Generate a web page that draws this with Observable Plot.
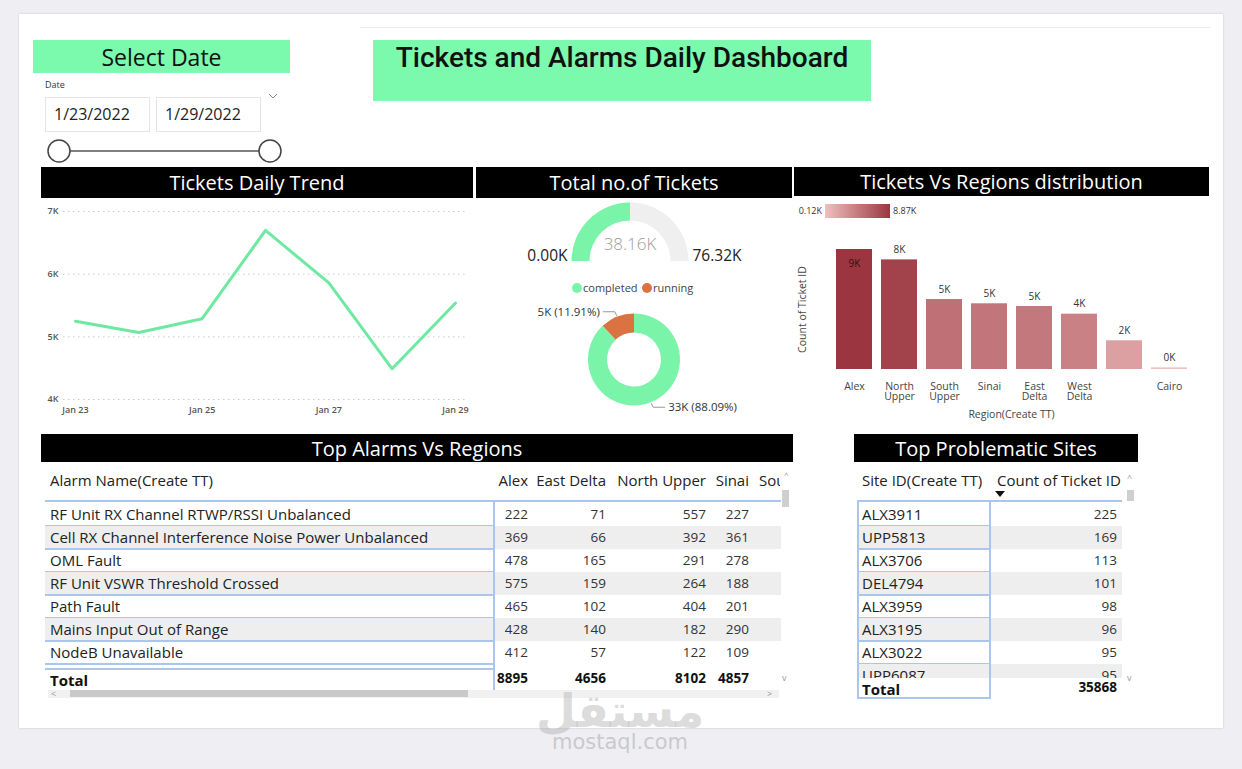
<!DOCTYPE html>
<html><head><meta charset="utf-8">
<script src="https://cdn.jsdelivr.net/npm/d3@7"></script>
<script src="https://cdn.jsdelivr.net/npm/@observablehq/plot@0.6"></script>
<style>
html,body{margin:0;padding:0;}
body{width:1242px;height:769px;background:#eeeef3;overflow:hidden;font-family:"Open Sans",sans-serif;color:#222;}
#root{position:relative;width:1242px;height:769px;}
#root div{position:absolute;box-sizing:border-box;white-space:nowrap;}
.green{background:#7bf9ac;}
.bar{background:#000;color:#fff;text-align:center;font-size:20px;}
</style></head><body><div id="root"></div>
<script>
// ---------------- DATA ----------------
const dateRange = ["1/23/2022", "1/29/2022"];
const trendDates = ["2022-01-23","2022-01-24","2022-01-25","2022-01-26","2022-01-27","2022-01-28","2022-01-29"];
const trendTickets = [5250, 5070, 5290, 6700, 5860, 4490, 5540];
const trendYTicks = [4000, 5000, 6000, 7000];
const trendXTicks = ["2022-01-23","2022-01-25","2022-01-27","2022-01-29"];

const gaugeMin = 0;
const gaugeMax = 76320;
const gaugeValue = 38160;
const statusNames = ["completed", "running"];
const statusCounts = [33420, 4518];

const regionNames = ["Alex","North Upper","South Upper","Sinai","East Delta","West Delta","","Cairo"];
const regionTickets = [8870, 8102, 5170, 4857, 4656, 4090, 2120, 120];

const alarmNames = ["RF Unit RX Channel RTWP/RSSI Unbalanced","Cell RX Channel Interference Noise Power Unbalanced","OML Fault","RF Unit VSWR Threshold Crossed","Path Fault","Mains Input Out of Range","NodeB Unavailable"];
const alarmRegions = ["Alex","East Delta","North Upper","Sinai","South Upper"];
const alarmAlex = [222, 369, 478, 575, 465, 428, 412];
const alarmEastDelta = [71, 66, 165, 159, 102, 140, 57];
const alarmNorthUpper = [557, 392, 291, 264, 404, 182, 122];
const alarmSinai = [227, 361, 278, 188, 201, 290, 109];
const alarmTotals = [8895, 4656, 8102, 4857];

const siteIds = ["ALX3911","UPP5813","ALX3706","DEL4794","ALX3959","ALX3195","ALX3022","UPP6087"];
const siteCounts = [225, 169, 113, 101, 98, 96, 95, 95];
const siteTotal = 35868;

// ---------------- HELPERS ----------------
const F = '"Open Sans", sans-serif';
const root = document.getElementById("root");
function box(l, t, w, h, css, text, parent) {
  const d = document.createElement("div");
  d.style.cssText = `left:${l}px;top:${t}px;` + (w != null ? `width:${w}px;` : "") + (h != null ? `height:${h}px;` : "") + (css || "");
  if (text != null) d.textContent = text;
  (parent || root).appendChild(d);
  return d;
}
const green = "#7bf9ac";
const lineGreen = "#6ee9a2";
const blueLine = "#aac6ea";

// card
box(19, 14, 1204, 714, "background:#fff;box-shadow:0 0 2px rgba(0,0,0,.18);");
box(360, 27, 850, 1, "background:#ececec;");

// Select date
box(33, 40, 257, 33, "background:" + green + ";text-align:center;font-size:23px;line-height:34px;color:#111;", "Select Date");
box(45, 79, null, null, "font-size:9px;color:#333;line-height:12px;", "Date");
const chev = box(268, 82, 10, 6, "");
chev.innerHTML = '<svg width="10" height="6"><polyline points="1,1 5,5 9,1" fill="none" stroke="#888" stroke-width="1"/></svg>';
box(45, 97, 105, 35, "border:1px solid #e4e4e4;font-size:16px;line-height:33px;padding-left:8px;color:#222;", dateRange[0]);
box(156, 97, 105, 35, "border:1px solid #e4e4e4;font-size:16px;line-height:33px;padding-left:8px;color:#222;", dateRange[1]);
const sl = box(40, 135, 260, 32, "");
sl.innerHTML = '<svg width="260" height="32"><line x1="30" y1="16" x2="219" y2="16" stroke="#555" stroke-width="1.6"/><circle cx="19" cy="16" r="11" fill="#fff" stroke="#444" stroke-width="1.5"/><circle cx="230" cy="16" r="11" fill="#fff" stroke="#444" stroke-width="1.5"/></svg>';

// Title
box(373, 40, 498, 61, "background:" + green + ";text-align:center;font-family:Roboto,sans-serif;font-weight:500;font-size:28px;line-height:36px;color:#111;", "Tickets and Alarms Daily Dashboard");

// Header bars
box(41, 167, 432, 31, "line-height:31px;", "Tickets Daily Trend").className = "bar";
box(476, 167, 316, 31, "line-height:31px;", "Total no.of Tickets").className = "bar";
box(794, 167, 415, 29, "line-height:29px;", "Tickets Vs Regions distribution").className = "bar";
box(41, 434, 752, 28, "line-height:29px;", "Top Alarms Vs Regions").className = "bar";
box(854, 434, 284, 28, "line-height:29px;", "Top Problematic Sites").className = "bar";

// ---------------- LINE CHART ----------------
const trendData = trendDates.map((d, i) => ({date: new Date(d), v: trendTickets[i]}));
const lineChart = Plot.plot({
  width: 432, height: 225,
  marginLeft: 34, marginRight: 18, marginTop: 11, marginBottom: 26,
  style: {fontFamily: F, fontSize: "9px", fontWeight: "600", color: "#555", background: "transparent", overflow: "visible"},
  x: {type: "utc", domain: [trendData[0].date, trendData[trendData.length - 1].date], ticks: trendXTicks.map(d => new Date(d)), tickFormat: d3.utcFormat("%b %d"), tickSize: 0, tickPadding: 7, label: null},
  y: {domain: [trendYTicks[0], trendYTicks[trendYTicks.length - 1]], ticks: trendYTicks, tickFormat: d => d / 1000 + "K", tickSize: 0, tickPadding: 17, label: null},
  marks: [
    Plot.ruleY(trendYTicks, {stroke: "#c9c9c9", strokeDasharray: "1.5,3.5", insetLeft: -12, insetRight: -12}),
    Plot.line(trendData, {x: "date", y: "v", stroke: lineGreen, strokeWidth: 3})
  ]
});
box(41, 200, 432, 225, "").appendChild(lineChart);

// ---------------- GAUGE + DONUT ----------------
const statusColors = ["#7af4a9", "#db7242"];
const kfmt2 = v => (v / 1000).toFixed(2) + "K";
const midChart = Plot.plot({
  width: 316, height: 232, margin: 0,
  x: {domain: [0, 316], axis: null}, y: {domain: [0, 232], axis: null, reverse: true},
  style: {fontFamily: F, background: "transparent", overflow: "visible"},
  marks: [
    (index, scales, values, dims) => {
      const g = d3.create("svg:g");
      // gauge
      const gx = scales.x(154), gy = scales.y(63);
      const ro = 58.5, ri = 40.5;
      const frac = (gaugeValue - gaugeMin) / (gaugeMax - gaugeMin);
      const a0 = -Math.PI / 2, a1 = a0 + Math.PI * frac, a2 = Math.PI / 2;
      const arc = d3.arc();
      g.append("path").attr("transform", `translate(${gx},${gy})`).attr("fill", "#efefef")
        .attr("d", arc({innerRadius: ri, outerRadius: ro, startAngle: a1, endAngle: a2}));
      g.append("path").attr("transform", `translate(${gx},${gy})`).attr("fill", statusColors[0])
        .attr("d", arc({innerRadius: ri, outerRadius: ro, startAngle: a0, endAngle: a1}));
      g.append("text").attr("x", gx).attr("y", gy - 11).attr("text-anchor", "middle").attr("font-size", 17).attr("font-weight", 300).attr("fill", "#9a9a9a").text(kfmt2(gaugeValue));
      g.append("text").attr("x", gx - ro - 4).attr("y", gy).attr("text-anchor", "end").attr("font-size", 15.5).attr("fill", "#222").text(kfmt2(gaugeMin));
      g.append("text").attr("x", gx + ro + 4).attr("y", gy).attr("text-anchor", "start").attr("font-size", 15.5).attr("fill", "#222").text(kfmt2(gaugeMax));
      // legend
      const ly = scales.y(90);
      let lx = scales.x(101);
      statusNames.forEach((n, i) => {
        g.append("circle").attr("cx", lx).attr("cy", ly).attr("r", 5).attr("fill", statusColors[i]);
        g.append("text").attr("x", lx + 6).attr("y", ly).attr("dy", "0.35em").attr("text-anchor", "start").attr("font-size", 11).attr("fill", "#444").text(n);
        lx += 70;
      });
      // donut
      const cx = scales.x(158), cy = scales.y(161.5);
      const dro = 46, dri = 27;
      const total = d3.sum(statusCounts);
      const arcs = d3.pie().sort(null).value(d => d)(statusCounts);
      arcs.forEach((a, i) => {
        g.append("path").attr("transform", `translate(${cx},${cy})`).attr("fill", statusColors[i])
          .attr("d", arc({innerRadius: dri, outerRadius: dro, startAngle: a.startAngle, endAngle: a.endAngle}));
      });
      arcs.forEach((a, i) => {
        const mid = (a.startAngle + a.endAngle) / 2;
        const sx = cx + (dro + 1) * Math.sin(mid), sy = cy - (dro + 1) * Math.cos(mid);
        const side = Math.sin(mid) >= 0 ? 1 : -1;
        const vert = Math.cos(mid) > 0 ? -1 : 1;
        const lyy = sy + vert * 4;
        g.append("path").attr("fill", "none").attr("stroke", "#999").attr("stroke-width", 1)
          .attr("d", `M${sx},${sy}L${sx + side * 2},${lyy}L${sx + side * 14},${lyy}`);
        g.append("text").attr("x", sx + side * 17).attr("y", lyy).attr("dy", "0.35em")
          .attr("text-anchor", side > 0 ? "start" : "end").attr("font-size", 11.5).attr("fill", "#333")
          .text(Math.round(a.data / 1000) + "K (" + (a.data / total * 100).toFixed(2) + "%)");
      });
      return g.node();
    }
  ]
});
box(476, 198, 316, 232, "").appendChild(midChart);

// ---------------- BAR CHART ----------------
const regionData = regionNames.map((r, i) => ({r, v: regionTickets[i]}));
const rMin = d3.min(regionTickets), rMax = d3.max(regionTickets);
const barLight = "#efc0c0", barDark = "#9b3640";
const kfmt0 = d => Math.round(d.v / 1000) + "K";
const barChart = Plot.plot({
  width: 415, height: 225,
  marginLeft: 37, marginRight: 18, marginTop: 49, marginBottom: 56,
  style: {fontFamily: F, fontSize: "10.5px", color: "#444", background: "transparent", overflow: "visible"},
  x: {domain: regionNames, paddingInner: 0.21, paddingOuter: 0.105, tickSize: 0, tickPadding: 13, tickFormat: d => d.replace(" ", "\n"), label: "Region(Create TT)", labelAnchor: "center", labelOffset: 48},
  y: {domain: [0, rMax], ticks: [], label: "Count of Ticket ID", labelAnchor: "center", labelOffset: 33, labelArrow: false},
  color: {type: "linear", domain: [rMin, rMax], range: [barLight, barDark]},
  marks: [
    Plot.barY(regionData, {x: "r", y: "v", fill: "v"}),
    Plot.text(regionData.filter(d => d.v < rMax), {x: "r", y: "v", text: kfmt0, dy: -10, fill: "#333", fontSize: 10}),
    Plot.text(regionData.filter(d => d.v === rMax), {x: "r", y: "v", text: kfmt0, dy: 14, fill: "#3a0a10", fontSize: 10})
  ]
});
box(794, 200, 415, 225, "").appendChild(barChart);
// gradient legend
box(825, 204, 65, 14, `background:linear-gradient(to right, ${barLight}, ${barDark});`);
box(770, 204, 52, 14, "font-size:9px;line-height:14px;text-align:right;color:#333;", kfmt2(rMin));
box(893, 204, 40, 14, "font-size:9px;line-height:14px;color:#333;", kfmt2(rMax));

// ---------------- ALARMS TABLE ----------------
const rowH = 23;
const alarmCols = [alarmAlex, alarmEastDelta, alarmNorthUpper, alarmSinai];
const alarmRight = [528, 606, 706, 749];
box(50, 469, null, 22, "font-size:15px;line-height:22px;color:#222;", "Alarm Name(Create TT)");
alarmRegions.forEach((r, j) => {
  if (j < alarmRight.length) box(alarmRight[j] - 120, 469, 120, 22, "font-size:15px;line-height:22px;text-align:right;color:#222;", r);
});
const clipHdr = box(759, 469, 21, 22, "overflow:hidden;");
box(0, 0, null, 22, "font-size:15px;line-height:22px;color:#222;", alarmRegions[4], clipHdr);
box(45, 500, 736, 2, "background:" + blueLine + ";");
const av = box(45, 502, 736, 166, "overflow:hidden;");
alarmNames.forEach((n, i) => {
  const top = 1 + i * rowH;
  if (i % 2 === 1) box(0, top, 736, rowH, "background:#eeeeee;", null, av);
  box(5, top, 440, rowH, "font-size:15px;line-height:23px;color:#222;", n, av);
  alarmCols.forEach((col, j) => {
    box(alarmRight[j] - 45 - 80, top, 80, rowH, "font-size:13.5px;line-height:23px;text-align:right;color:#333;", col[i], av);
  });
  box(0, top + rowH - 1, 448, 1.5, "background:" + blueLine + ";", null, av);
});
box(45, 668, 448, 1.5, "background:" + blueLine + ";");
box(493, 501, 1.5, 189, "background:" + blueLine + ";");
box(50, 671, null, 18, "font-size:15px;line-height:18px;font-weight:700;color:#111;", "Total");
alarmTotals.forEach((t, j) => {
  box(alarmRight[j] - 80, 670, 80, 17, "font-size:13.5px;line-height:17px;font-weight:700;text-align:right;color:#111;", t);
});
// scrollbars
box(784, 470, 7, 9, "font-size:8px;line-height:9px;color:#999;", "^");
box(782, 490, 7, 17, "background:#cfcfcf;");
box(782, 673, 8, 10, "font-size:9px;line-height:10px;color:#999;", "v");
box(48, 690, 731, 8, "background:#f1f1f1;");
box(70, 690, 398, 7, "background:#c9c9c9;");
box(51, 689, 8, 10, "font-size:9px;line-height:10px;color:#999;", "<");
box(767, 689, 8, 10, "font-size:9px;line-height:10px;color:#999;", ">");

// ---------------- SITES TABLE ----------------
box(862, 469, null, 22, "font-size:15px;line-height:22px;color:#222;", "Site ID(Create TT)");
box(997, 469, 120, 22, "font-size:15px;line-height:22px;text-align:right;color:#222;", "Count of Ticket ID");
box(995, 491, 0, 0, "border-left:5px solid transparent;border-right:5px solid transparent;border-top:6px solid #111;");
box(857, 500, 265, 2, "background:" + blueLine + ";");
const sv = box(857, 502, 265, 176, "overflow:hidden;");
siteIds.forEach((s, i) => {
  const top = 1 + i * rowH;
  if (i % 2 === 1) box(0, top, 265, rowH, "background:#eeeeee;", null, sv);
  box(5, top, 125, rowH, "font-size:15px;line-height:23px;color:#222;", s, sv);
  box(180, top, 80, rowH, "font-size:13.5px;line-height:23px;text-align:right;color:#333;", siteCounts[i], sv);
  box(0, top + rowH - 1, 132, 1.5, "background:" + blueLine + ";", null, sv);
});
box(857, 501, 1.5, 198, "background:" + blueLine + ";");
box(989, 501, 1.5, 198, "background:" + blueLine + ";");
box(857, 697, 133, 1.5, "background:" + blueLine + ";");
box(862, 680, null, 18, "font-size:15px;line-height:18px;font-weight:700;color:#111;", "Total");
box(1037, 679, 80, 17, "font-size:13.5px;line-height:17px;font-weight:700;text-align:right;color:#111;", siteTotal);
box(1127, 473, 8, 10, "font-size:9px;line-height:10px;color:#999;", "^");
box(1127, 490, 7, 11, "background:#cfcfcf;");
box(1127, 673, 8, 10, "font-size:9px;line-height:10px;color:#999;", "v");

// ---------------- WATERMARK ----------------
box(530, 690, 180, 42, "text-align:center;font-family:'DejaVu Sans',sans-serif;font-weight:700;font-size:46px;line-height:42px;color:rgba(170,170,170,0.42);", "مستقل");
box(530, 729, 180, 26, "text-align:center;font-family:'DejaVu Sans',sans-serif;font-size:21px;line-height:26px;color:rgba(165,165,165,0.5);", "mostaql.com");
</script></body></html>
